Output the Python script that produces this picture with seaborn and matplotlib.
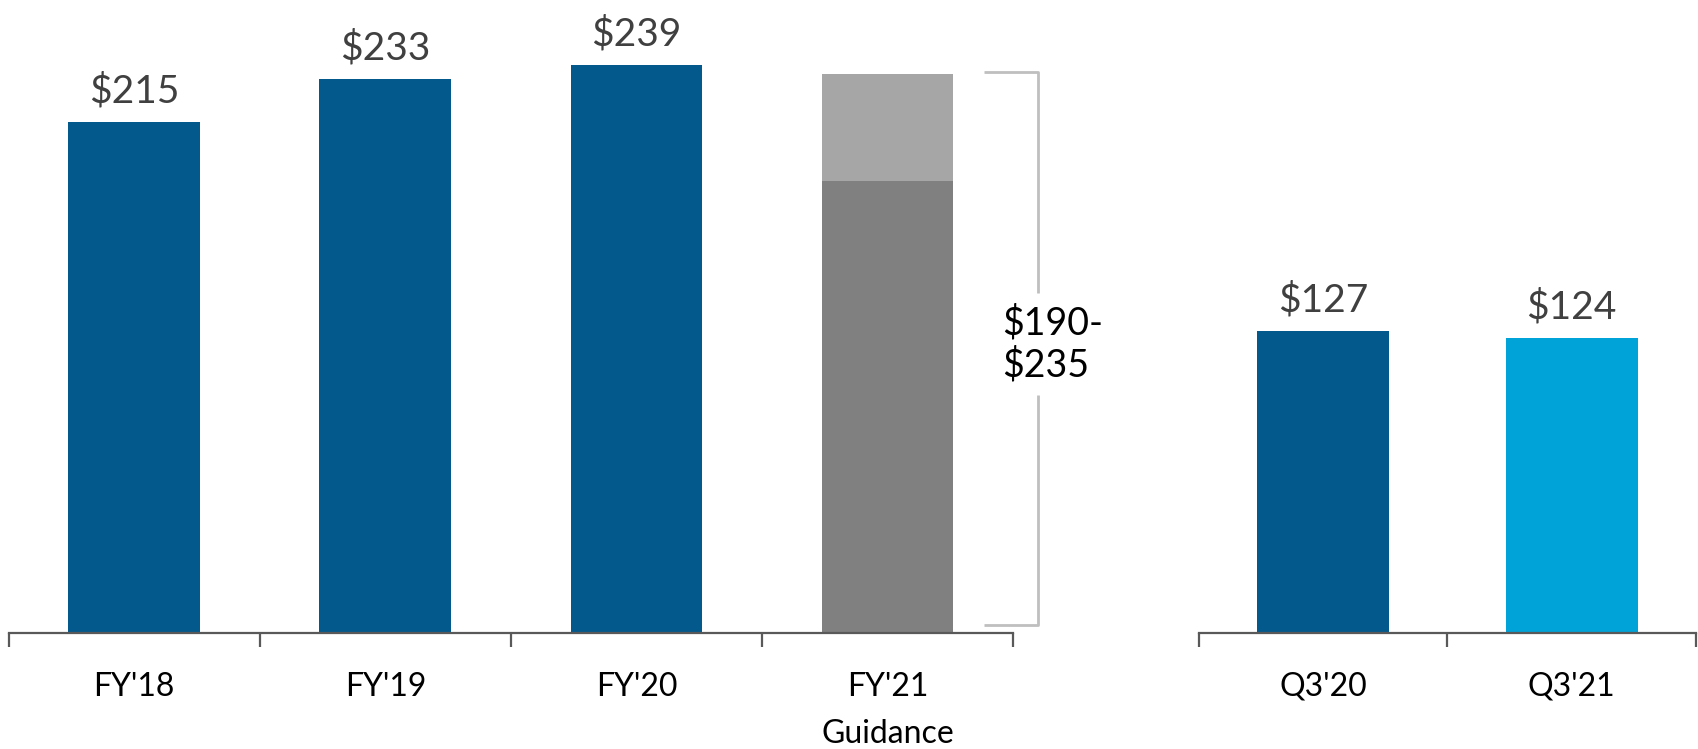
import matplotlib
matplotlib.use("Agg")
import matplotlib.pyplot as plt
import seaborn as sns
import pandas as pd

# Annual revenue ($M) and the FY'21 guidance range
annual_labels = ["FY'18", "FY'19", "FY'20", "FY'21\nGuidance"]
annual_values = [215, 233, 239, None]
guidance_low = 190
guidance_high = 235

# Quarterly comparison
quarter_labels = ["Q3'20", "Q3'21"]
quarter_values = [127, 124]

BLUE = "#03588C"
LIGHT_BLUE = "#00A3D8"
DARK_GRAY = "#808080"
LIGHT_GRAY = "#A6A6A6"
AXIS_COLOR = "#595959"
LABEL_COLOR = "#404040"

sns.set_theme(style="white")
plt.rcParams["font.family"] = ["Lato", "DejaVu Sans"]

fig = plt.figure(figsize=(16.99, 7.49), dpi=100)
ax_l = fig.add_axes([0.0051, 0.155, 0.5912, 0.845])
ax_r = fig.add_axes([0.7057, 0.155, 0.2925, 0.845])

YMAX = 266.3
BAR_W = 0.525

# --- annual bars ---
annual_df = pd.DataFrame({
    "period": annual_labels,
    "value": [v if v is not None else guidance_high for v in annual_values],
})
sns.barplot(data=annual_df, x="period", y="value", hue="period",
            palette=[BLUE, BLUE, BLUE, LIGHT_GRAY], order=annual_labels,
            width=BAR_W, saturation=1, legend=False, linewidth=0, ax=ax_l)
# lower bound of guidance drawn over the upper bound
sns.barplot(x=[annual_labels[3]], y=[guidance_low], order=annual_labels,
            color=DARK_GRAY, width=BAR_W, saturation=1, linewidth=0, ax=ax_l)

for i, v in enumerate(annual_values):
    if v is None:
        continue
    ax_l.annotate(f"${v}", (i, v), xytext=(0, 9), textcoords="offset points",
                  ha="center", va="bottom", fontsize=28, color=LABEL_COLOR)

# bracket for the guidance range
bx0, bx1 = 3.386, 3.60
b_lo, b_hi = 3.4, guidance_high + 1.2
gap_lo, gap_hi = 99.9, 143.2
br = dict(color="#BFBFBF", lw=2, clip_on=False, solid_capstyle="butt")
ax_l.plot([bx0, bx1, bx1], [b_hi, b_hi, gap_hi], **br)
ax_l.plot([bx1, bx1, bx0], [gap_lo, b_lo, b_lo], **br)
ax_l.text(3.455, (gap_lo + gap_hi) / 2, f"${guidance_low}-\n${guidance_high}",
          ha="left", va="center", fontsize=27, color="black",
          linespacing=1.2, clip_on=False)

# --- quarterly bars ---
quarter_df = pd.DataFrame({"period": quarter_labels, "value": quarter_values})
sns.barplot(data=quarter_df, x="period", y="value", hue="period",
            palette=[BLUE, LIGHT_BLUE], order=quarter_labels,
            width=0.53, saturation=1, legend=False, linewidth=0, ax=ax_r)
for i, v in enumerate(quarter_values):
    ax_r.annotate(f"${v}", (i, v), xytext=(0, 9), textcoords="offset points",
                  ha="center", va="bottom", fontsize=28, color=LABEL_COLOR)

# --- axis styling: category axis with separator ticks ---
for ax, n in ((ax_l, len(annual_labels)), (ax_r, len(quarter_labels))):
    ax.set_xlim(-0.5, n - 0.5)
    ax.set_ylim(0, YMAX)
    ax.set_xlabel("")
    ax.set_ylabel("")
    ax.set_yticks([])
    for s in ("top", "right", "left"):
        ax.spines[s].set_visible(False)
    ax.spines["bottom"].set_color(AXIS_COLOR)
    ax.spines["bottom"].set_linewidth(1.6)
    ax.set_xticks(range(n))
    ax.set_xticks([k - 0.5 for k in range(n + 1)], minor=True)
    ax.tick_params(axis="x", which="major", length=0, pad=28,
                   labelsize=23, labelcolor="black")
    ax.tick_params(axis="x", which="minor", direction="out", length=10,
                   width=1.6, color=AXIS_COLOR, bottom=True)
    for lbl in ax.get_xticklabels():
        lbl.set_linespacing(1.7)
        lbl.set_va("top")

fig.savefig("out.png", dpi=100)
